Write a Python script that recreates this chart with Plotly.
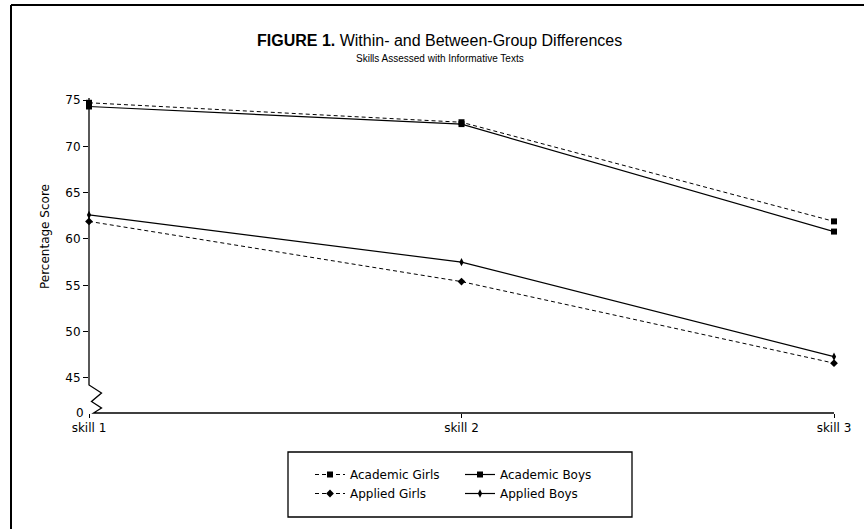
import plotly.graph_objects as go

categories = ["skill 1", "skill 2", "skill 3"]
academic_girls = [74.7, 72.6, 61.9]
academic_boys = [74.3, 72.4, 60.8]
applied_girls = [61.9, 55.4, 46.6]
applied_boys = [62.6, 57.5, 47.3]
y_tick_vals = [45, 50, 55, 60, 65, 70, 75]
y_break_label = "0"

W, H = 864, 529
L, R, T, B = 89, 30, 98, 116
PW, PH = W - L - R, H - T - B
Y_LO, Y_HI = 41.22, 75.216

def px(x):
    return (x - L) / PW

def py(y):
    return (H - B - y) / PH

TFONT = "Liberation Sans, Arial, sans-serif"
FONT = "DejaVu Sans, Liberation Sans, sans-serif"
FS = 12

fig = go.Figure()
fig.add_trace(go.Scatter(x=categories, y=academic_girls, name="Academic Girls",
                         mode="lines+markers", line=dict(color="black", width=1, dash="4px,3px"),
                         marker=dict(symbol="square", size=6, color="black"),
                         cliponaxis=False, legend="legend"))
fig.add_trace(go.Scatter(x=categories, y=applied_girls, name="Applied Girls",
                         mode="lines+markers", line=dict(color="black", width=1, dash="4px,3px"),
                         marker=dict(symbol="diamond", size=6, color="black"),
                         cliponaxis=False, legend="legend"))
fig.add_trace(go.Scatter(x=categories, y=academic_boys, name="Academic Boys",
                         mode="lines+markers", line=dict(color="black", width=1.2),
                         marker=dict(symbol="square", size=6, color="black"),
                         cliponaxis=False, legend="legend2"))
fig.add_trace(go.Scatter(x=categories, y=applied_boys, name="Applied Boys",
                         mode="lines+markers", line=dict(color="black", width=1.2),
                         marker=dict(symbol="diamond-tall", size=6, color="black"),
                         cliponaxis=False, legend="legend2"))

shapes = []
path = "M {} {} L {} {} L {} {} L {} {} L {} {} L {} {} L {} {}".format(
    px(89), py(98), px(89), py(385), px(101.5), py(393), px(91.5), py(401.5),
    px(101.5), py(408), px(93.5), py(413), px(834), py(413))
shapes.append(dict(type="path", xref="paper", yref="paper", path=path,
                   line=dict(color="black", width=1.3)))
shapes.append(dict(type="line", xref="paper", yref="paper", x0=px(11), x1=px(864),
                   y0=py(5), y1=py(5), line=dict(color="black", width=2)))
shapes.append(dict(type="line", xref="paper", yref="paper", x0=px(11), x1=px(11),
                   y0=py(5), y1=py(529), line=dict(color="black", width=2)))
shapes.append(dict(type="rect", xref="paper", yref="paper", x0=px(288), x1=px(632),
                   y0=py(452), y1=py(517), line=dict(color="black", width=1.3)))

annotations = [
    dict(text="<b>FIGURE 1.</b> Within- and Between-Group Differences", xref="paper", yref="paper",
         x=px(439), y=py(41), showarrow=False, font=dict(family=TFONT, size=16, color="black"),
         xanchor="center", yanchor="middle"),
    dict(text="Skills Assessed with Informative Texts", xref="paper", yref="paper",
         x=px(440), y=py(58), showarrow=False, font=dict(family=TFONT, size=10, color="black"),
         xanchor="center", yanchor="middle"),
    dict(text="Percentage Score", xref="paper", yref="paper", x=px(45), y=py(237),
         textangle=-90, showarrow=False, font=dict(family=FONT, size=FS, color="black"),
         xanchor="center", yanchor="middle"),
    dict(text=y_break_label, xref="paper", yref="y", x=px(86), y=Y_LO, showarrow=False,
         font=dict(family=FONT, size=FS, color="black"), xanchor="right", yanchor="middle"),
]

fig.update_layout(
    width=W, height=H,
    margin=dict(l=L, r=R, t=T, b=B, autoexpand=False),
    paper_bgcolor="white", plot_bgcolor="white",
    font=dict(family=FONT, size=FS, color="black"),
    showlegend=True,
    legend=dict(x=px(310), y=py(460), xanchor="left", yanchor="top", bgcolor="rgba(0,0,0,0)",
                font=dict(family=FONT, size=FS, color="black"), itemwidth=30, tracegroupgap=0),
    legend2=dict(x=px(460), y=py(460), xanchor="left", yanchor="top", bgcolor="rgba(0,0,0,0)",
                 font=dict(family=FONT, size=FS, color="black"), itemwidth=30, tracegroupgap=0),
    xaxis=dict(type="category", range=[0, 2], showgrid=False, zeroline=False, showline=False,
               ticks="outside", ticklen=4, tickcolor="black",
               tickfont=dict(family=FONT, size=FS, color="black")),
    yaxis=dict(range=[Y_LO, Y_HI], tickvals=y_tick_vals, showgrid=False, zeroline=False,
               showline=False, ticks="outside", ticklen=5, tickcolor="black",
               tickfont=dict(family=FONT, size=FS, color="black")),
    shapes=shapes, annotations=annotations,
)

fig.write_html("out.html", config={"displayModeBar": False},
               post_script="document.body.style.margin='0px';")
